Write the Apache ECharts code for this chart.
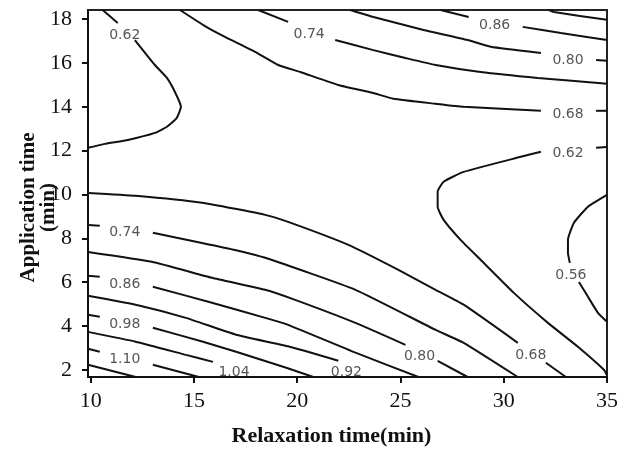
<!DOCTYPE html>
<html><head><meta charset="utf-8">
<script src="https://cdn.jsdelivr.net/npm/echarts@6/dist/echarts.min.js"></script>
<style>html,body{margin:0;padding:0;background:#fff}#c{width:624px;height:449px}</style>
</head><body><div id="c"></div>
<script>
// axis ticks
const xTicks = [10, 15, 20, 25, 30, 35];
const yTicks = [2, 4, 6, 8, 10, 12, 14, 16, 18];

// contour segments: [relaxation time, application time]
const c056 = [
  [[35.0,9.98],[34.08,9.44],[33.40,8.71],[33.11,7.93],[33.11,7.34],[33.20,6.88]],
  [[33.64,6.01],[34.08,5.33],[34.56,4.60],[35.0,4.19]]
];
const c062L = [
  [[10.58,18.42],[11.31,17.83]],
  [[12.14,17.05],[13.11,15.91],[13.69,15.32],[14.08,14.68],[14.37,14.0],[14.17,13.50],[13.69,13.09],[13.11,12.81],[11.80,12.49],[10.68,12.31],[9.87,12.13]]
];
const c062R = [
  [[34.47,12.13],[35.0,12.17]],
  [[31.80,11.95],[30.83,11.72],[28.06,11.03],[27.09,10.58],[26.80,10.12],[26.80,9.44],[27.09,8.84],[27.91,7.93],[28.88,7.02],[30.49,5.51],[32.14,4.14],[33.59,3.05],[34.85,2.00],[35.0,1.75]]
];
const c068U = [
  [[14.32,18.42],[15.68,17.60],[16.50,17.19],[17.96,16.51],[19.08,15.91],[20.15,15.59],[21.99,15.00],[23.64,14.64],[24.66,14.37],[26.70,14.14],[28.06,14.00],[31.80,13.82]],
  [[34.47,13.82],[35.0,13.82]]
];
const c068L = [
  [[9.87,10.07],[12.18,9.94],[15.39,9.62],[18.45,9.07],[19.56,8.75],[22.48,7.70],[24.90,6.56],[26.70,5.65],[28.06,4.97],[30.68,3.23]],
  [[32.04,2.32],[33.01,1.67]]
];
const c074U = [
  [[18.11,18.42],[19.56,17.88]],
  [[21.84,17.05],[23.64,16.60],[25.24,16.23],[26.70,15.91],[28.88,15.59],[31.65,15.32],[35.0,15.05]]
];
const c074L = [
  [[9.87,8.61],[10.44,8.57]],
  [[13.01,8.25],[15.39,7.79],[16.99,7.47],[18.45,7.11],[22.82,5.65],[26.70,3.82],[28.06,3.23],[30.68,1.67]]
];
const c080U = [
  [[22.57,18.42],[23.69,18.10],[26.12,17.51],[28.25,17.05],[29.37,16.74],[31.80,16.46]],
  [[34.47,16.14],[35.0,16.10]]
];
const c080L = [
  [[9.87,7.38],[12.96,6.93],[15.87,6.20],[18.45,5.65],[19.90,5.19],[22.82,4.14],[25.24,3.14]],
  [[26.80,2.41],[28.25,1.67]]
];
const c086U = [
  [[26.94,18.42],[28.30,18.10]],
  [[30.92,17.65],[32.77,17.37],[35.0,17.05]]
];
const c086L = [
  [[9.87,6.29],[10.44,6.24]],
  [[13.01,5.79],[15.87,5.06],[18.45,4.37],[19.56,4.05],[22.82,2.78],[25.87,1.67]]
];
const c092U = [[[32.18,18.42],[32.43,18.33],[35.0,17.97]]];
const c092L = [[[9.87,5.38],[12.18,4.97],[14.61,4.37],[17.04,3.60],[19.56,3.07],[21.99,2.41]]];
const c098 = [
  [[9.87,4.51],[10.44,4.42]],
  [[13.01,3.92],[15.44,3.28],[17.04,2.82],[19.47,2.09],[20.78,1.67]]
];
const c104 = [[[9.87,3.73],[12.18,3.28],[14.61,2.68],[15.92,2.36]]];
const c110 = [
  [[9.87,2.96],[10.44,2.82]],
  [[13.01,2.23],[15.24,1.67]]
];
const c116 = [[[9.87,2.23],[12.18,1.67]]];

// contour labels: [relaxation time, application time, text]
const contourLabels = [
  [11.65,17.24,'0.62'], [20.58,17.33,'0.74'], [29.56,17.74,'0.86'],
  [33.11,16.14,'0.80'], [33.11,13.65,'0.68'], [33.11,11.88,'0.62'],
  [33.25,6.29,'0.56'], [31.31,2.64,'0.68'], [25.92,2.59,'0.80'],
  [22.38,1.86,'0.92'], [16.94,1.86,'1.04'], [11.65,8.25,'0.74'],
  [11.65,5.88,'0.86'], [11.65,4.05,'0.98'], [11.65,2.46,'1.10']
];

const allContours = [c056, c062L, c062R, c068U, c068L, c074U, c074L, c080U, c080L,
  c086U, c086L, c092U, c092L, c098, c104, c110, c116];

const series = [];
allContours.forEach(function (segs) {
  segs.forEach(function (seg) {
    series.push({
      type: 'line', data: seg, showSymbol: false, symbol: 'none', smooth: 0.15,
      lineStyle: { color: '#111', width: 2 }, silent: true, z: 2
    });
  });
});
series.push({
  type: 'scatter', symbolSize: 0, silent: true, z: 3,
  data: contourLabels.map(function (d) { return { value: [d[0], d[1]], name: d[2] }; }),
  label: {
    show: true, position: 'inside', formatter: function (p) { return p.name; },
    fontFamily: 'DejaVu Sans', fontSize: 14, color: '#2a2a2a'
  }
});

const chart = echarts.init(document.getElementById('c'), null, { renderer: 'canvas' });
chart.setOption({
  animation: false,
  backgroundColor: '#fff',
  grid: { left: 88, top: 10, width: 519, height: 367, show: true, borderColor: '#222', borderWidth: 2, containLabel: false, outerBoundsMode: 'none' },
  xAxis: {
    type: 'value', min: 9.87, max: 35,
    name: 'Relaxation time(min)', nameLocation: 'middle', nameGap: 48, nameMoveOverlap: false,
    nameTextStyle: { fontFamily: 'Liberation Serif', fontWeight: 'bold', fontSize: 22, color: '#111', padding: [0, 32, 0, 0] },
    axisLine: { lineStyle: { color: '#111', width: 2 } },
    axisTick: { show: true, inside: false, length: 6, lineStyle: { width: 2, color: '#111' }, customValues: xTicks },
    axisLabel: { customValues: xTicks, margin: 13, fontFamily: 'Liberation Serif', fontSize: 22, color: '#111' },
    splitLine: { show: false }
  },
  yAxis: {
    type: 'value', min: 1.67, max: 18.42,
    name: 'Application time\n(min)', nameLocation: 'middle', nameGap: 29, nameRotate: 90, nameMoveOverlap: false,
    nameTextStyle: { fontFamily: 'Liberation Serif', fontWeight: 'bold', fontSize: 21, color: '#111', lineHeight: 20, padding: [0, 28, 0, 0] },
    axisLine: { lineStyle: { color: '#111', width: 2 } },
    axisTick: { show: true, inside: false, length: 6, lineStyle: { width: 2, color: '#111' }, customValues: yTicks },
    axisLabel: { customValues: yTicks, margin: 16, fontFamily: 'Liberation Serif', fontSize: 22, color: '#111' },
    splitLine: { show: false }
  },
  series: series
});
</script>
</body></html>
